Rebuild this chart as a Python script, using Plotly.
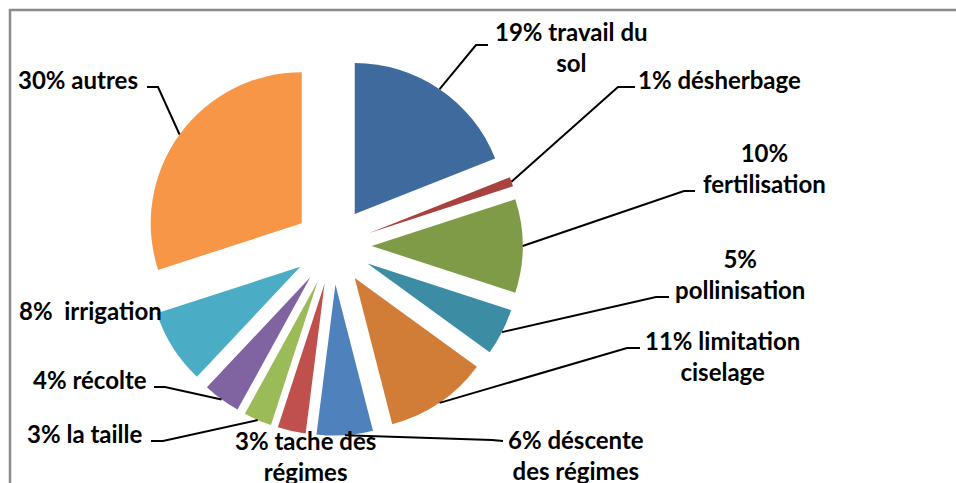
import math
import plotly.graph_objects as go

# ---- data ---------------------------------------------------------------
categories = [
    "travail du sol", "désherbage", "fertilisation", "pollinisation",
    "limitation ciselage", "déscente des régimes", "tache des régimes",
    "la taille", "récolte", "irrigation", "autres",
]
values = [19, 1, 10, 5, 11, 6, 3, 3, 4, 8, 30]

# label text layout (percent inserted at {p})
label_fmt = [
    "{p}% travail du<br>sol",
    "{p}% désherbage",
    "{p}%<br>fertilisation",
    "{p}%<br>pollinisation",
    "{p}% limitation<br>ciselage",
    "{p}% déscente<br>des régimes",
    "{p}% tache des<br>régimes",
    "{p}% la taille",
    "{p}% récolte",
    "{p}%\u00a0 irrigation",
    "{p}% autres",
]

colors = [
    "#3E6A9E", "#A8423F", "#7F9B48", "#3C8CA3", "#D17D38",
    "#4F81BD", "#C0504D", "#9BBB59", "#8064A2", "#4BACC6", "#F79646",
]

# ---- layout constants (pixels) -----------------------------------------
W, H = 956, 483
CX, CY = 333.0, 246.0      # pie centre
R = 151.0                  # slice radius
PULL = 0.256               # explode fraction of radius

# label block centres
label_pos = [
    (571, 47), (719, 80), (764, 168), (740, 274), (722, 356),
    (576, 455), (305, 456), (85, 433), (90, 379), (90, 310), (78, 80),
]
# leader line elbow and end points (None = no leader)
leaders = [
    ((476, 45), (488, 45)),
    ((618, 87), (635, 87)),
    ((684, 191), (695, 191)),
    ((656, 297), (669, 297)),
    ((627, 348), (640, 348)),
    ((492, 440), (503, 441)),
    None,
    ((163, 441), (151, 441)),
    ((165, 387), (154, 387)),
    None,
    ((158, 87), (147, 87)),
]


def px(x):
    return x / W


def py(y):
    return 1 - y / H


half = R * (1 + PULL)
domain_x = [px(CX - half), px(CX + half)]
domain_y = [py(CY + half), py(CY - half)]

fig = go.Figure(
    go.Pie(
        labels=categories,
        values=values,
        sort=False,
        direction="clockwise",
        rotation=0,
        pull=[PULL] * len(values),
        marker=dict(colors=colors, line=dict(width=0)),
        textinfo="none",
        hoverinfo="label+percent",
        showlegend=False,
        domain=dict(x=domain_x, y=domain_y),
    )
)

total = sum(values)
shapes = []
annotations = []
cum = 0.0
for i, v in enumerate(values):
    mid = (cum + v / 2) / total * 2 * math.pi
    cum += v
    # point on the exploded slice's outer arc at its mid-angle
    sx = CX + half * math.sin(mid)
    sy = CY - half * math.cos(mid)
    if leaders[i] is not None:
        (ex, ey), (tx, ty) = leaders[i]
        path = f"M {px(sx)} {py(sy)} L {px(ex)} {py(ey)} L {px(tx)} {py(ty)}"
        shapes.append(dict(type="path", xref="paper", yref="paper", path=path,
                           line=dict(color="black", width=2)))
    lx, ly = label_pos[i]
    annotations.append(dict(
        x=px(lx), y=py(ly), xref="paper", yref="paper",
        text="<b>" + label_fmt[i].format(p=v) + "</b>",
        showarrow=False, xanchor="center", yanchor="middle",
        align="center",
        font=dict(family="Lato", size=24, color="black"),
    ))

# chart-area frame (top and left edges visible)
shapes.append(dict(type="rect", xref="paper", yref="paper",
                   x0=px(10), y0=py(10), x1=1.02, y1=-0.03,
                   line=dict(color="#8C8C8C", width=2.5)))

fig.update_layout(
    width=W, height=H,
    margin=dict(l=0, r=0, t=0, b=0),
    paper_bgcolor="white",
    plot_bgcolor="white",
    shapes=shapes,
    annotations=annotations,
)

fig.write_html("out.html")
